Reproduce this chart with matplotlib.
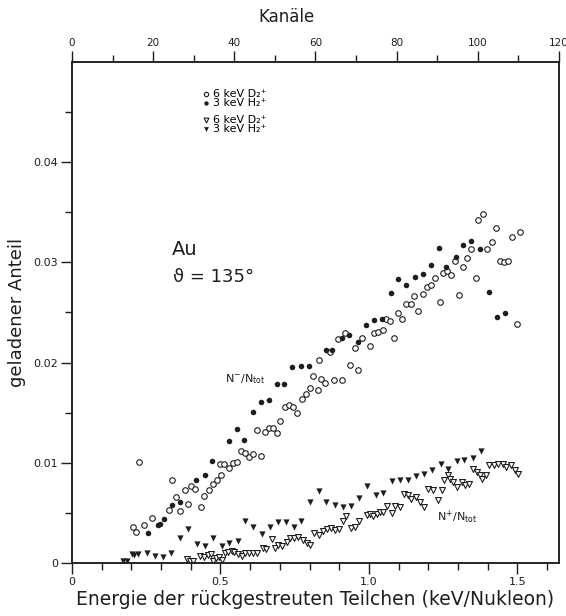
import matplotlib
matplotlib.use('Agg')
import matplotlib.pyplot as plt

plt.rcParams['font.family'] = 'DejaVu Sans'
plt.rcParams['mathtext.default'] = 'regular'

# N-/Ntot, 6 keV D2+ (offene Kreise)
neg_d2_x = [0.205, 0.216, 0.226, 0.242, 0.270, 0.325, 0.337, 0.350, 0.364, 0.381,
            0.392, 0.400, 0.413, 0.433, 0.446, 0.460, 0.476, 0.488, 0.499, 0.502,
            0.511, 0.528, 0.543, 0.555, 0.568, 0.582, 0.596, 0.611, 0.623, 0.636,
            0.650, 0.664, 0.678, 0.691, 0.702, 0.717, 0.732, 0.745, 0.758, 0.773,
            0.787, 0.800, 0.813, 0.827, 0.831, 0.840, 0.853, 0.868, 0.882, 0.897,
            0.909, 0.921, 0.936, 0.952, 0.963, 0.976, 1.003, 1.018, 1.032, 1.046,
            1.057, 1.071, 1.086, 1.098, 1.112, 1.126, 1.140, 1.153, 1.166, 1.181,
            1.195, 1.209, 1.223, 1.239, 1.251, 1.263, 1.277, 1.290, 1.304, 1.317,
            1.330, 1.344, 1.359, 1.367, 1.383, 1.398, 1.414, 1.427, 1.440, 1.454,
            1.468, 1.483, 1.499, 1.508]
neg_d2_y = [0.00356, 0.00305, 0.0101, 0.00383, 0.00446, 0.00534, 0.00833, 0.00658, 0.00524, 0.00725,
            0.00591, 0.0077, 0.0074, 0.00564, 0.00668, 0.00732, 0.00792, 0.00826, 0.00987, 0.00883,
            0.00987, 0.00953, 0.0100, 0.0101, 0.0112, 0.0110, 0.0106, 0.0109, 0.0133, 0.0107,
            0.0131, 0.0135, 0.0135, 0.0130, 0.0142, 0.0156, 0.0158, 0.0156, 0.0150, 0.0164,
            0.0169, 0.0175, 0.0187, 0.0173, 0.0203, 0.0184, 0.0180, 0.0211, 0.0183, 0.0224,
            0.0183, 0.0230, 0.0198, 0.0215, 0.0193, 0.0225, 0.0217, 0.0230, 0.0231, 0.0233,
            0.0244, 0.0242, 0.0225, 0.0249, 0.0244, 0.0258, 0.0258, 0.0266, 0.0251, 0.0268,
            0.0275, 0.0277, 0.0284, 0.0260, 0.0289, 0.0291, 0.0287, 0.0301, 0.0267, 0.0295,
            0.0304, 0.0313, 0.0284, 0.0342, 0.0348, 0.0313, 0.0320, 0.0334, 0.0301, 0.0300,
            0.0301, 0.0325, 0.0239, 0.0330]

# N-/Ntot, 3 keV H2+ (volle Kreise)
neg_h2_x = [0.257, 0.288, 0.298, 0.310, 0.337, 0.364, 0.417, 0.448, 0.472, 0.528,
            0.555, 0.578, 0.608, 0.635, 0.663, 0.689, 0.715, 0.742, 0.771, 0.797,
            0.855, 0.875, 0.908, 0.933, 0.962, 0.990, 1.018, 1.044, 1.073, 1.097,
            1.125, 1.154, 1.181, 1.208, 1.236, 1.261, 1.292, 1.317, 1.344, 1.373,
            1.403, 1.430, 1.457]
neg_h2_y = [0.00295, 0.0038, 0.0039, 0.0044, 0.00584, 0.00607, 0.00826, 0.00876, 0.0102, 0.0122,
            0.01336, 0.01229, 0.01504, 0.0161, 0.0163, 0.0179, 0.0179, 0.01957, 0.01964, 0.01967,
            0.0213, 0.0213, 0.0225, 0.0228, 0.0221, 0.0238, 0.0243, 0.0244, 0.0269, 0.0283,
            0.0277, 0.0285, 0.0288, 0.0297, 0.0314, 0.0295, 0.0305, 0.0317, 0.0321, 0.0313,
            0.0270, 0.0246, 0.0249]

# N+/Ntot, 6 keV D2+ (offene Dreiecke)
pos_d2_x = [0.386, 0.397, 0.406, 0.431, 0.445, 0.459, 0.467, 0.476, 0.485, 0.495,
            0.504, 0.515, 0.526, 0.538, 0.547, 0.560, 0.571, 0.582, 0.597, 0.611,
            0.622, 0.642, 0.655, 0.673, 0.683, 0.694, 0.706, 0.723, 0.734, 0.747,
            0.762, 0.777, 0.790, 0.803, 0.816, 0.832, 0.846, 0.860, 0.872, 0.885,
            0.900, 0.912, 0.922, 0.938, 0.953, 0.968, 0.992, 1.003, 1.015, 1.026,
            1.037, 1.048, 1.062, 1.076, 1.089, 1.104, 1.118, 1.133, 1.143, 1.158,
            1.172, 1.186, 1.200, 1.216, 1.233, 1.245, 1.253, 1.267, 1.272, 1.284,
            1.298, 1.312, 1.325, 1.337, 1.349, 1.363, 1.374, 1.382, 1.394, 1.405,
            1.421, 1.435, 1.450, 1.463, 1.477, 1.491, 1.502]
pos_d2_y = [0.0004, 0.0002, 0.0002, 0.0007, 0.0006, 0.0008, 0.0009, 0.0002, 0.0005, 0.0006,
            0.0003, 0.0010, 0.0011, 0.0012, 0.0011, 0.0009, 0.0007, 0.0010, 0.0010, 0.0010,
            0.0010, 0.0015, 0.0014, 0.0024, 0.0015, 0.0018, 0.0017, 0.0021, 0.0025, 0.0025,
            0.0026, 0.0023, 0.0020, 0.0018, 0.0030, 0.0028, 0.0032, 0.0034, 0.0035, 0.0033,
            0.0034, 0.0042, 0.0047, 0.0035, 0.0036, 0.0042, 0.0048, 0.0049, 0.0047, 0.0049,
            0.0051, 0.0051, 0.0057, 0.0050, 0.0057, 0.0056, 0.0069, 0.0068, 0.0064, 0.0066,
            0.0061, 0.0056, 0.0074, 0.0073, 0.0063, 0.0073, 0.0083, 0.0088, 0.0084, 0.0081,
            0.0076, 0.0081, 0.0078, 0.0079, 0.0094, 0.0091, 0.0088, 0.0084, 0.0088, 0.0098,
            0.0098, 0.0099, 0.0099, 0.0096, 0.0098, 0.0093, 0.0089]

# N+/Ntot, 3 keV H2+ (volle Dreiecke)
pos_h2_x = [0.172, 0.185, 0.201, 0.210, 0.221, 0.254, 0.279, 0.305, 0.334, 0.364,
            0.390, 0.420, 0.448, 0.476, 0.504, 0.529, 0.558, 0.584, 0.611, 0.640,
            0.667, 0.694, 0.721, 0.747, 0.771, 0.803, 0.832, 0.857, 0.885, 0.912,
            0.939, 0.968, 0.994, 1.023, 1.049, 1.077, 1.103, 1.131, 1.158, 1.186,
            1.213, 1.241, 1.267, 1.295, 1.321, 1.351, 1.376]
pos_h2_y = [0.0002, 0.0002, 0.0009, 0.0008, 0.0009, 0.00104, 0.0007, 0.0006, 0.00104, 0.0025,
            0.0034, 0.0019, 0.0017, 0.0025, 0.0017, 0.0020, 0.0022, 0.0042, 0.0036, 0.0029,
            0.0036, 0.0041, 0.0041, 0.0036, 0.0042, 0.0061, 0.0072, 0.0061, 0.0058, 0.0056,
            0.0057, 0.0065, 0.0077, 0.0068, 0.0070, 0.0082, 0.0083, 0.0083, 0.0087, 0.0089,
            0.0093, 0.0099, 0.0094, 0.0102, 0.0103, 0.0105, 0.0112]

x_major = [0, 0.5, 1.0, 1.5]
x_labels = ['0', '0.5', '1.0', '1.5']
y_major = [0, 0.01, 0.02, 0.03, 0.04]
y_labels = ['0', '0.01', '0.02', '0.03', '0.04']
kanal_major = [0, 20, 40, 60, 80, 100, 120]

ink = '#1e1e1e'

fig = plt.figure(figsize=(5.66, 6.16), dpi=100)
ax = fig.add_axes([0.1272, 0.0860, 0.8604, 0.8134])

ax.scatter(neg_d2_x, neg_d2_y, s=16, marker='o', facecolors='white', edgecolors=ink, linewidths=0.8, zorder=3)
ax.scatter(neg_h2_x, neg_h2_y, s=16, marker='o', color=ink, linewidths=0, zorder=3)
ax.scatter(pos_d2_x, pos_d2_y, s=18, marker='v', facecolors='white', edgecolors=ink, linewidths=0.8, zorder=3)
ax.scatter(pos_h2_x, pos_h2_y, s=20, marker='v', color=ink, linewidths=0, zorder=3)

ax.set_xlim(0, 1.640)
ax.set_ylim(0, 0.05)

ax.set_xticks(x_major)
ax.set_xticklabels(x_labels)
ax.set_xticks([i / 10 for i in range(17)], minor=True)
ax.set_yticks(y_major)
ax.set_yticklabels(y_labels)
ax.set_yticks([0.005 + i * 0.01 for i in range(5)], minor=True)
ax.tick_params(axis='both', which='major', direction='out', length=8, width=1, labelsize=8, colors=ink, pad=2)
ax.tick_params(axis='both', which='minor', direction='out', length=5, width=1, colors=ink)
for sp in ax.spines.values():
    sp.set_color(ink)
    sp.set_linewidth(1.1)

ax2 = ax.twiny()
ax2.set_xlim(0, 120)
ax2.set_xticks(kanal_major)
ax2.set_xticks(list(range(10, 120, 20)), minor=True)
ax2.tick_params(axis='x', which='major', direction='out', length=8, width=1, labelsize=7.5, colors=ink, pad=2)
ax2.tick_params(axis='x', which='minor', direction='out', length=5, width=1, colors=ink)
for sp in ax2.spines.values():
    sp.set_color(ink)
    sp.set_linewidth(1.1)
ax2.set_xlabel('Kanäle', fontsize=12, color=ink)
ax2.xaxis.set_label_coords(0.441, 1.08)

ax.set_xlabel('Energie der rückgestreuten Teilchen (keV/Nukleon)', fontsize=13.5, color=ink, labelpad=2)
ax.set_ylabel('geladener Anteil', fontsize=13, color=ink)
ax.yaxis.set_label_coords(-0.095, 0.5)

ax.text(0.337, 0.0307, 'Au', fontsize=14, color=ink, va='baseline')
ax.text(0.340, 0.0280, 'ϑ = 135°', fontsize=13, color=ink, va='baseline')
ax.text(0.515, 0.0180, r'N$^{-}$/N$_{tot}$', fontsize=8, color=ink, va='baseline')
ax.text(1.229, 0.0042, r'N$^{+}$/N$_{tot}$', fontsize=8, color=ink, va='baseline')

# Legende: Kreise oben, Dreiecke darunter
h1 = ax.scatter([], [], s=10, marker='o', facecolors='white', edgecolors=ink, linewidths=0.8)
h2 = ax.scatter([], [], s=10, marker='o', color=ink, linewidths=0)
h3 = ax.scatter([], [], s=12, marker='v', facecolors='white', edgecolors=ink, linewidths=0.8)
h4 = ax.scatter([], [], s=12, marker='v', color=ink, linewidths=0)
leg1 = ax.legend([h1, h2], ['6 keV D₂⁺', '3 keV H₂⁺'], loc='upper left',
                 bbox_to_anchor=(0.252, 0.957), frameon=False, fontsize=8,
                 handletextpad=0.15, labelspacing=-0.1, borderpad=0, handlelength=1.0)
ax.add_artist(leg1)
ax.legend([h3, h4], ['6 keV D₂⁺', '3 keV H₂⁺'], loc='upper left',
          bbox_to_anchor=(0.252, 0.905), frameon=False, fontsize=8,
          handletextpad=0.15, labelspacing=-0.1, borderpad=0, handlelength=1.0)

fig.savefig('out.png', dpi=100)
